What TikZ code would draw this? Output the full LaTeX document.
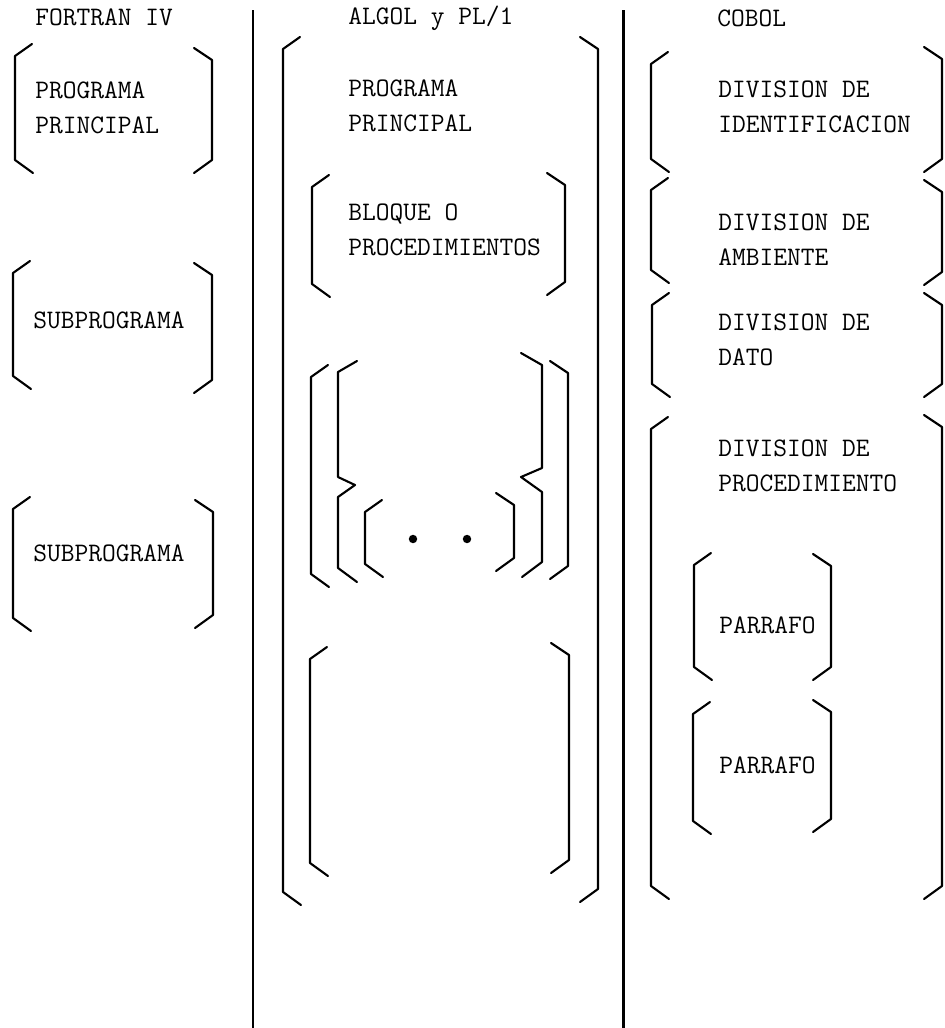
\documentclass[tikz,border=0pt]{standalone}
\usepackage{tikz}
\usetikzlibrary{positioning}
\tikzset{
  brk/.style={line width=1.2pt, line cap=round, line join=round},
  divider/.style={line width=1.7pt},
  lbl/.style={font=\ttfamily\fontsize{15.2}{19.9}\selectfont,
    align=left, anchor=west, inner sep=0pt},
  dotn/.style={circle, fill, inner sep=0pt, minimum size=4.8pt},
}
% left and right bracket: x, top y, bottom y (pixels, y down)
\newcommand{\lbrk}[3]{\draw[brk] (#1+17,#2) -- (#1,#2+12) -- (#1,#3-13) -- (#1+18,#3);}
\newcommand{\rbrk}[3]{\draw[brk] (#1-18,#2) -- (#1,#2+12) -- (#1,#3-13) -- (#1-18,#3);}

\begin{document}
\begin{tikzpicture}[x=0.02cm, y=-0.02cm]
  \useasboundingbox (0,0) rectangle (944,1028);

  % column dividers
  \draw[divider] (253,10) -- (253,1028);
  \draw[divider] (623,10) -- (623,1028);

  % FORTRAN IV
  \node[lbl] (fortran) at (35,17) {FORTRAN IV};
  \node[lbl] (fmain) at (35,108) {PROGRAMA\\PRINCIPAL};
  \node[lbl] (fsubA) at (33,320) {SUBPROGRAMA};
  \node[lbl] (fsubB) at (33,553) {SUBPROGRAMA};
  \lbrk{15}{44}{173}   \rbrk{212}{48}{173}
  \lbrk{13}{261}{389}  \rbrk{212}{263}{393}
  \lbrk{13}{497}{631}  \rbrk{213}{500}{628}

  % ALGOL y PL/1
  \node[lbl] (algol) at (348,18) {ALGOL y PL/1};
  \node[lbl] (amain) at (348,106) {PROGRAMA\\PRINCIPAL};
  \node[lbl] (ablock) at (348,230) {BLOQUE O\\PROCEDIMIENTOS};
  \lbrk{283}{37}{905}  \rbrk{598}{37}{902}
  \lbrk{312}{175}{297} \rbrk{565}{173}{295}
  \lbrk{311}{365}{587} \rbrk{568}{361}{579}
  \draw[brk] (357,361) -- (338,372) -- (338,477) -- (355,485)
    -- (338,497) -- (338,568) -- (357,582);
  \draw[brk] (521,353) -- (542,365) -- (542,468) -- (521,477)
    -- (542,492) -- (542,562) -- (522,577);
  \lbrk{365}{500}{577} \rbrk{514}{493}{571}
  \node[dotn] (dotA) at (413,539) {};
  \node[dotn] (dotB) at (467,539) {};
  \lbrk{310}{647}{876} \rbrk{569}{643}{873}

  % COBOL
  \node[lbl] (cobol) at (717,18) {COBOL};
  \node[lbl] (cident) at (718,107) {DIVISION DE\\IDENTIFICACION};
  \node[lbl] (cenv) at (718,240) {DIVISION DE\\AMBIENTE};
  \node[lbl] (cdata) at (718,340) {DIVISION DE\\DATO};
  \node[lbl] (cproc) at (718,466) {DIVISION DE\\PROCEDIMIENTO};
  \node[lbl] (cparA) at (719,625) {PARRAFO};
  \node[lbl] (cparB) at (719,765) {PARRAFO};
  \lbrk{651}{52}{172}  \rbrk{942}{47}{172}
  \lbrk{651}{178}{283} \rbrk{942}{180}{285}
  \lbrk{652}{293}{397} \rbrk{942}{293}{397}
  \lbrk{651}{417}{899} \rbrk{942}{415}{899}
  \lbrk{694}{553}{680} \rbrk{831}{554}{680}
  \lbrk{693}{702}{834} \rbrk{831}{700}{832}

\end{tikzpicture}
\end{document}
